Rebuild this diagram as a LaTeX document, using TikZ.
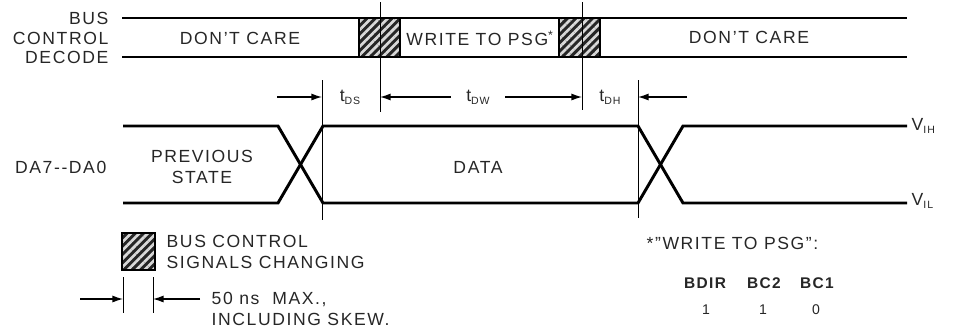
\documentclass[tikz,border=0pt]{standalone}
\usepackage{fontspec}
\setmainfont{Liberation Sans}[LetterSpace=9]
\usetikzlibrary{arrows.meta,patterns.meta,positioning}

\newcommand{\sigfont}{\fontsize{12.5}{15}\selectfont}
\newcommand{\tsub}[1]{\raisebox{-0.3ex}{\fontsize{7.5}{8}\selectfont #1}}

\tikzset{
    wave/.style={line width=2.1pt},
    guide/.style={line width=0.7pt},
    dim/.style={line width=0.9pt, -{Latex[length=7.5pt,width=5pt]}},
    hatch/.style={preaction={fill=black!85},
        pattern={Lines[angle=45,distance=4.2pt,line width=1.9pt]},
        pattern color=white!85!black, draw=black, line width=1.6pt},
    lbl/.style={font=\sigfont, text=black!85, inner sep=1pt, align=center},
}

\begin{document}
\begin{tikzpicture}[x=0.025cm,y=-0.025cm]
    \useasboundingbox (0,0) rectangle (956,331);

    % Bus control decode
    \draw[wave] (122,18) -- (907,18);
    \draw[wave] (122,57) -- (907,57);
    \path[hatch] (359,18) rectangle (400,57);
    \path[hatch] (559,18) rectangle (600,57);

    \node[lbl, anchor=east] (bus) at (110,18) {BUS};
    \node[lbl, anchor=east] (control) at (110,38) {CONTROL};
    \node[lbl, anchor=east] (decode) at (110,57) {DECODE};

    \node[lbl] (care1) at (240,38) {DON'T CARE};
    \node[lbl] (write) at (480,38) {WRITE TO PSG\textsuperscript{*}};
    \node[lbl] (care2) at (749,37) {DON'T CARE};

    % Data bus
    \draw[wave] (123,126) -- (278,126) -- (323,203) -- (638,203) -- (683,126) -- (907,126);
    \draw[wave] (123,203) -- (278,203) -- (323,126) -- (638,126) -- (683,203) -- (907,203);

    \node[lbl, anchor=east] (da) at (108,167) {DA7-{}-DA0};
    \node[lbl] (prev) at (202,167) {PREVIOUS\\STATE};
    \node[lbl] (data) at (478,167) {DATA};
    \node[lbl, anchor=west] (vih) at (910,126) {V\tsub{IH}};
    \node[lbl, anchor=west] (vil) at (910,201) {V\tsub{IL}};

    % Timing guides
    \draw[guide] (322,80) -- (322,220);
    \draw[guide] (380,2) -- (380,112);
    \draw[guide] (582,2) -- (582,110);
    \draw[guide] (638,80) -- (638,218);

    \coordinate (ds0) at (277,97);
    \coordinate (ds1) at (322,97);
    \coordinate (dw0) at (380,97);
    \coordinate (dw1) at (582,97);
    \coordinate (dh0) at (638,97);
    \coordinate (dh1) at (687,97);

    \node[lbl] (tds) at (350,97) {t\tsub{DS}};
    \node[lbl] (tdw) at (478,97) {t\tsub{DW}};
    \node[lbl] (tdh) at (610,97) {t\tsub{DH}};

    \draw[dim] (ds0) -- (ds1);
    \draw[dim] ([xshift=-10pt]tdw.west) -- (dw0);
    \draw[dim] ([xshift=10pt]tdw.east) -- (dw1);
    \draw[dim] (dh1) -- (dh0);

    % Legend
    \path[hatch] (122,233) rectangle (155,270);
    \node[lbl, anchor=west, align=left] (legend) at (165,252) {BUS CONTROL\\SIGNALS CHANGING};

    \draw[guide] (123,277) -- (123,313);
    \draw[guide] (153,277) -- (153,313);
    \coordinate (sk0) at (80,299);
    \coordinate (sk1) at (123,299);
    \coordinate (sk2) at (153,299);
    \coordinate (sk3) at (200,299);
    \draw[dim] (sk0) -- (sk1);
    \draw[dim] (sk3) -- (sk2);
    \node[lbl, anchor=west, align=left] (skew) at (210,309) {50 ns\ \ MAX.,\\INCLUDING SKEW.};

    % Write to PSG code
    \node[lbl, anchor=west] (code) at (645,243) {*"WRITE TO PSG":};
    \node[lbl, font=\fontsize{11}{13}\selectfont\bfseries] (bdir) at (705,283) {BDIR};
    \node[lbl, font=\fontsize{11}{13}\selectfont\bfseries] (bctwo) at (764,283) {BC2};
    \node[lbl, font=\fontsize{11}{13}\selectfont\bfseries] (bcone) at (817,283) {BC1};
    \node[lbl, font=\fontsize{10}{12}\selectfont] at (706,310) {1};
    \node[lbl, font=\fontsize{10}{12}\selectfont] at (763,310) {1};
    \node[lbl, font=\fontsize{10}{12}\selectfont] at (816,310) {0};
\end{tikzpicture}
\end{document}
